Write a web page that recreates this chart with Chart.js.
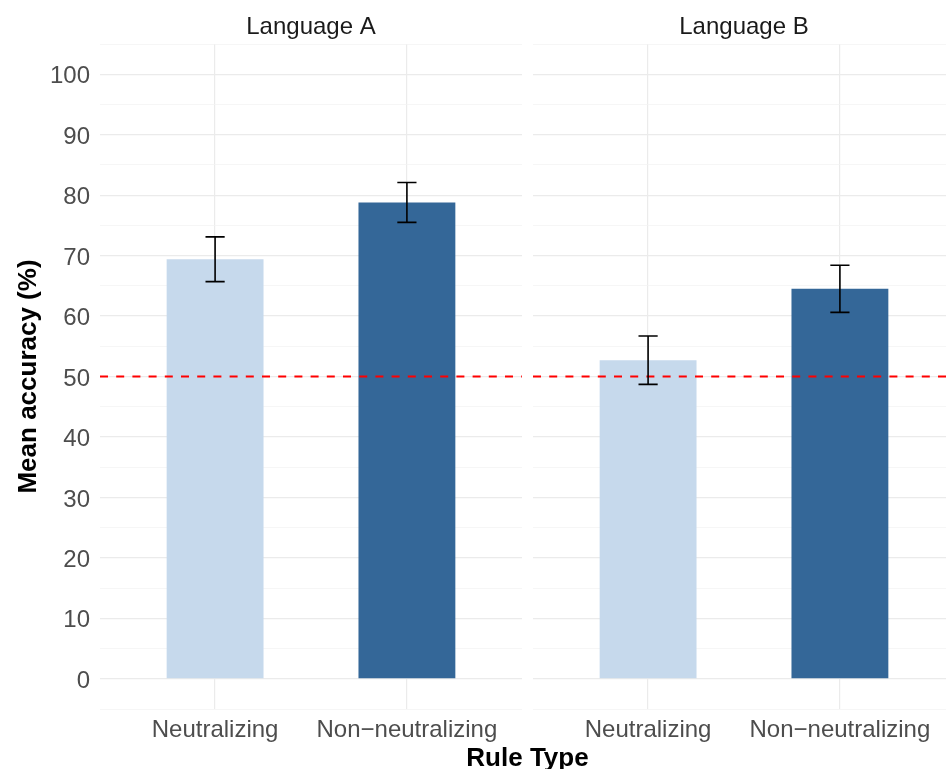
<!DOCTYPE html>
<html>
<head>
<meta charset="utf-8">
<script src="https://cdn.jsdelivr.net/npm/chart.js@4/dist/chart.umd.min.js"></script>
<style>
  html, body { margin: 0; padding: 0; background: #fff; overflow: hidden; }
  body { width: 946px; height: 769px; position: relative; }
  canvas { position: absolute; top: 0; }
  #chartA { left: 0; }
  #chartB { left: 533px; }
  #xTitle {
    position: absolute; left: 0; top: 744px; width: 1055px;
    text-align: center; font: bold 26px "Liberation Sans", Arial, sans-serif;
    line-height: 26px; color: #000;
  }
</style>
</head>
<body>
<canvas id="chartA" width="522" height="769"></canvas>
<canvas id="chartB" width="422" height="769"></canvas>
<div id="xTitle">Rule Type</div>
<script>
// ===== data =====
const categories = ["Neutralizing", "Non\u2212neutralizing"];
const panels = ["Language A", "Language B"];
const meanA = [69.4, 78.8];
const lowA  = [65.7, 75.5];
const highA = [73.1, 82.1];
const meanB = [52.7, 64.5];
const lowB  = [48.7, 60.6];
const highB = [56.7, 68.4];
const chanceLevel = 50;
const yTicks = [0, 10, 20, 30, 40, 50, 60, 70, 80, 90, 100];

// ===== style =====
const FONT = '"Liberation Sans", Arial, sans-serif';
const barColors = ["#C6D9EC", "#346798"];
const GRID = "#EBEBEB";

// error bars + dashed chance line
const extrasPlugin = {
  id: "extras",
  afterDatasetsDraw(chart, args, opts) {
    const { ctx, chartArea, scales: { x, y } } = chart;
    // dashed reference line
    ctx.save();
    ctx.strokeStyle = "#FF0000";
    ctx.lineWidth = 2;
    ctx.setLineDash([8, 8.2]);
    const yc = y.getPixelForValue(chanceLevel);
    ctx.beginPath();
    ctx.moveTo(chartArea.left, yc);
    ctx.lineTo(chartArea.right, yc);
    ctx.stroke();
    ctx.restore();
    // error bars
    ctx.save();
    ctx.strokeStyle = "#000";
    ctx.lineWidth = 1.6;
    opts.low.forEach((lo, i) => {
      const hi = opts.high[i];
      const cx = x.getPixelForValue(i);
      const hw = x.getPixelForValue(i + 0.05) - cx;
      const y1 = y.getPixelForValue(lo);
      const y2 = y.getPixelForValue(hi);
      ctx.beginPath();
      ctx.moveTo(cx, y1); ctx.lineTo(cx, y2);
      ctx.moveTo(cx - hw, y1); ctx.lineTo(cx + hw, y1);
      ctx.moveTo(cx - hw, y2); ctx.lineTo(cx + hw, y2);
      ctx.stroke();
    });
    ctx.restore();
  }
};

function makePanel(id, title, means, low, high, showY) {
  const ctx = document.getElementById(id).getContext("2d");
  return new Chart(ctx, {
    type: "bar",
    data: {
      datasets: [{
        data: means.map((v, i) => ({ x: i, y: v })),
        backgroundColor: barColors,
        borderWidth: 0,
        categoryPercentage: 1,
        barPercentage: 0.505
      }]
    },
    options: {
      responsive: false,
      animation: false,
      devicePixelRatio: 1,
      layout: { padding: 0 },
      scales: {
        x: {
          type: "linear",
          min: -0.6,
          max: 1.6,
          offset: false,
          border: { display: false },
          grid: { color: GRID, lineWidth: 1.2, drawTicks: false, offset: false },
          afterBuildTicks: s => { s.ticks = categories.map((c, i) => ({ value: i })); },
          afterFit: s => { s.height = 60; },
          ticks: {
            autoSkip: false,
            maxRotation: 0,
            padding: 7,
            color: "#4D4D4D",
            font: { family: FONT, size: 24 },
            callback: v => categories[v]
          }
        },
        y: {
          min: -5,
          max: 105,
          border: { display: false },
          afterBuildTicks: s => {
            const t = [];
            for (let v = -5; v <= 105; v += 5) t.push({ value: v });
            s.ticks = t;
          },
          afterFit: s => { s.width = showY ? 100 : 0; },
          grid: {
            drawTicks: false,
            color: c => (yTicks.includes(c.tick.value) ? GRID : "#F2F2F2"),
            lineWidth: c => (yTicks.includes(c.tick.value) ? 1.2 : 0.7)
          },
          ticks: {
            display: showY,
            autoSkip: false,
            padding: 10,
            labelOffset: 2.5,
            color: "#4D4D4D",
            font: { family: FONT, size: 24 },
            callback: v => (yTicks.includes(v) ? v : "")
          },
          title: {
            display: showY,
            text: "Mean accuracy (%)",
            color: "#000",
            font: { family: FONT, size: 26, weight: "bold" },
            padding: { top: 13, bottom: 0 }
          }
        }
      },
      plugins: {
        legend: { display: false },
        tooltip: { enabled: false },
        title: {
          display: true,
          text: title,
          fullSize: false,
          color: "#1A1A1A",
          font: { family: FONT, size: 24, weight: "normal" },
          padding: { top: 13, bottom: 2.2 }
        },
        extras: { low, high }
      }
    },
    plugins: [extrasPlugin]
  });
}

makePanel("chartA", panels[0], meanA, lowA, highA, true);
makePanel("chartB", panels[1], meanB, lowB, highB, false);
</script>
</body>
</html>
